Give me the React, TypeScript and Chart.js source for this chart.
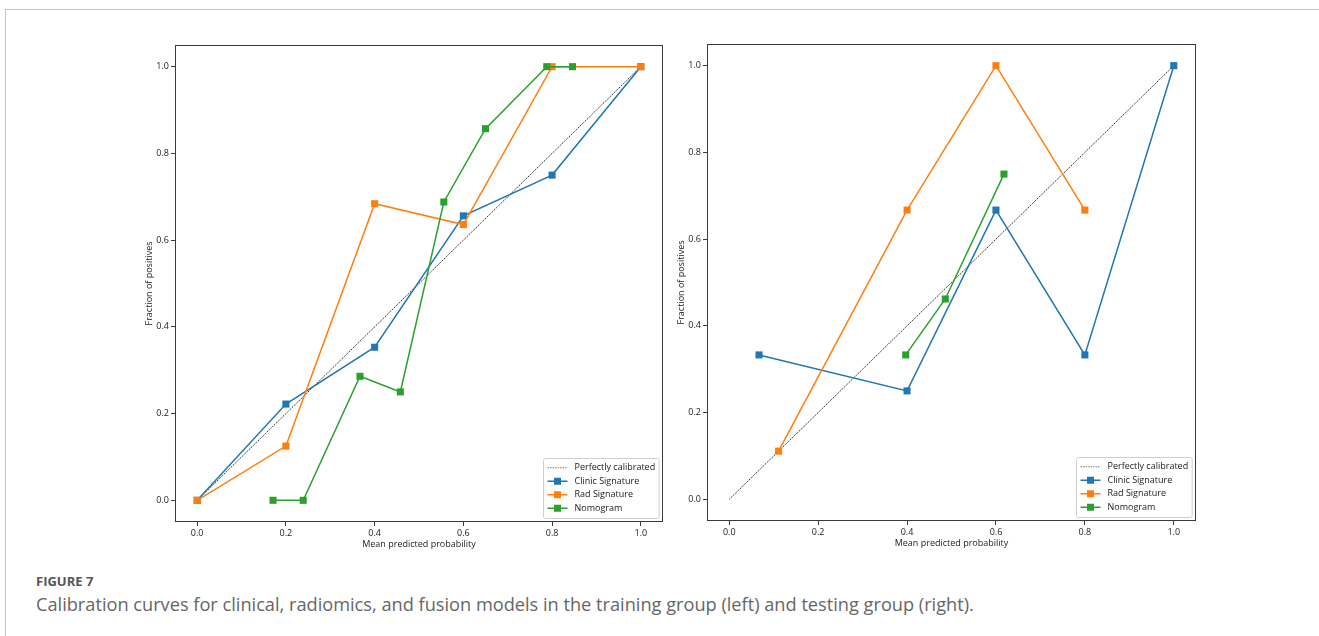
import React, { useEffect, useRef } from "react";
import { Chart, registerables } from "chart.js";

Chart.register(...registerables);

// ---------- data ----------
const seriesLabels = ["Perfectly calibrated", "Clinic Signature", "Rad Signature", "Nomogram"];
const tickValues = [0, 0.2, 0.4, 0.6, 0.8, 1.0];
const xAxisTitle = "Mean predicted probability";
const yAxisTitle = "Fraction of positives";
const figureLabel = "FIGURE 7";
const captionText =
  "Calibration curves for clinical, radiomics, and fusion models in the training group (left) and testing group (right).";

const diagX = [0, 1];
const diagY = [0, 1];

// training group (left)
const trainClinicX = [0, 0.2, 0.4, 0.6, 0.8, 1.0];
const trainClinicY = [0, 0.222, 0.353, 0.656, 0.75, 1.0];
const trainRadX = [0, 0.2, 0.4, 0.6, 0.8, 1.0];
const trainRadY = [0, 0.125, 0.684, 0.636, 1.0, 1.0];
const trainNomoX = [0.171, 0.239, 0.367, 0.458, 0.556, 0.65, 0.788, 0.846];
const trainNomoY = [0, 0, 0.286, 0.25, 0.688, 0.857, 1.0, 1.0];

// testing group (right)
const testClinicX = [0.067, 0.4, 0.6, 0.8, 1.0];
const testClinicY = [0.333, 0.25, 0.667, 0.333, 1.0];
const testRadX = [0.111, 0.4, 0.6, 0.8];
const testRadY = [0.111, 0.667, 1.0, 0.667];
const testNomoX = [0.397, 0.486, 0.618];
const testNomoY = [0.333, 0.462, 0.75];

// ---------- styles ----------
const COLORS = ["#222222", "#1f77b4", "#ff7f0e", "#2ca02c"];
const FONT_FAMILY = "'Open Sans', 'Noto Sans', sans-serif";
const axisFont = { family: FONT_FAMILY, size: 9 };

const pts = (xs: number[], ys: number[]) => xs.map((x, i) => ({ x, y: ys[i] }));

function makeDatasets(cx: number[], cy: number[], rx: number[], ry: number[], nx: number[], ny: number[]) {
  const series = [
    [diagX, diagY],
    [cx, cy],
    [rx, ry],
    [nx, ny],
  ];
  return series.map(([xs, ys], i) => {
    const isDiag = i === 0;
    return {
      label: seriesLabels[i],
      data: pts(xs, ys),
      showLine: true,
      tension: 0,
      borderColor: isDiag ? "rgba(20,20,20,0.9)" : COLORS[i],
      backgroundColor: COLORS[i],
      borderWidth: isDiag ? 1 : 1.5,
      borderDash: isDiag ? [1.5, 1] : [],
      pointRadius: isDiag ? 0 : 5,
      pointStyle: "rect",
      pointBackgroundColor: COLORS[i],
      pointBorderColor: COLORS[i],
      pointBorderWidth: 0,
      order: 4 - i,
    };
  });
}

const framePlugin = {
  id: "frameBox",
  afterDatasetsDraw(chart: any) {
    const { ctx, chartArea } = chart;
    ctx.save();
    ctx.strokeStyle = "#3a3a3a";
    ctx.lineWidth = 1;
    ctx.strokeRect(
      Math.round(chartArea.left) + 0.5,
      Math.round(chartArea.top) + 0.5,
      Math.round(chartArea.right - chartArea.left) - 1,
      Math.round(chartArea.bottom - chartArea.top) - 1
    );
    ctx.restore();
  },
};

const legendPlugin = {
  id: "boxLegend",
  afterDraw(chart: any) {
    const { ctx, chartArea } = chart;
    const ds = chart.data.datasets;
    ctx.save();
    ctx.font = `${axisFont.size}px ${FONT_FAMILY}`;
    const textW = Math.max(...ds.map((d: any) => ctx.measureText(d.label).width));
    const rowH = 13.5;
    const w = 31 + textW + 4;
    const h = ds.length * rowH + 6;
    const x0 = Math.round(chartArea.right - 4 - w) + 0.5;
    const y0 = Math.round(chartArea.bottom - 4 - h) + 0.5;
    ctx.beginPath();
    if ((ctx as any).roundRect) (ctx as any).roundRect(x0, y0, w, h, 2);
    else ctx.rect(x0, y0, w, h);
    ctx.fillStyle = "rgba(255,255,255,0.85)";
    ctx.fill();
    ctx.strokeStyle = "#cfcfcf";
    ctx.lineWidth = 1;
    ctx.stroke();
    ds.forEach((d: any, i: number) => {
      const cy = y0 + 2.5 + rowH * (i + 0.5);
      ctx.save();
      ctx.beginPath();
      ctx.strokeStyle = i === 0 ? "rgba(80,80,80,0.75)" : d.borderColor;
      ctx.lineWidth = d.borderWidth;
      ctx.setLineDash(d.borderDash || []);
      ctx.moveTo(x0 + 4, cy);
      ctx.lineTo(x0 + 24, cy);
      ctx.stroke();
      ctx.restore();
      if (d.pointRadius > 0) {
        ctx.fillStyle = d.pointBackgroundColor;
        ctx.fillRect(x0 + 14 - 3.5, cy - 3.5, 7, 7);
      }
      ctx.fillStyle = "#1a1a1a";
      ctx.textBaseline = "middle";
      ctx.textAlign = "left";
      ctx.fillText(d.label, x0 + 31, cy);
    });
    ctx.restore();
  },
};

function axis(title: string, isX: boolean, fit: number) {
  return {
    type: "linear",
    position: isX ? "bottom" : "left",
    min: -0.05,
    max: 1.05,
    afterBuildTicks: (s: any) => {
      s.ticks = tickValues.map((v) => ({ value: v }));
    },
    afterFit: (s: any) => {
      if (isX) s.height = fit;
      else s.width = fit;
    },
    ticks: {
      callback: (v: any) => Number(v).toFixed(1),
      font: axisFont,
      color: "#222",
      padding: 2,
      autoSkip: false,
      maxRotation: 0,
      minRotation: 0,
    },
    grid: {
      display: true,
      drawOnChartArea: false,
      drawTicks: true,
      tickLength: 4,
      color: "#3a3a3a",
      lineWidth: 1,
    },
    border: { display: false },
    title: {
      display: true,
      text: title,
      font: axisFont,
      color: "#222",
      padding: { top: 4, bottom: 4 },
    },
  };
}

function CalibChart(props: { left: number; top: number; width: number; height: number; padRight: number; datasets: any[] }) {
  const ref = useRef<HTMLCanvasElement>(null);
  useEffect(() => {
    const chart = new Chart(ref.current as HTMLCanvasElement, {
      type: "scatter",
      data: { datasets: props.datasets },
      options: {
        animation: false,
        responsive: false,
        devicePixelRatio: 1,
        events: [],
        layout: { padding: { top: 10, right: props.padRight, left: 0, bottom: 0 } },
        plugins: { legend: { display: false }, tooltip: { enabled: false } },
        scales: {
          x: axis(xAxisTitle, true, 32) as any,
          y: axis(yAxisTitle, false, 35) as any,
        },
      },
      plugins: [framePlugin, legendPlugin],
    });
    return () => chart.destroy();
  }, []);
  return (
    <canvas
      ref={ref}
      width={props.width}
      height={props.height}
      style={{ position: "absolute", left: props.left, top: props.top, width: props.width, height: props.height }}
    />
  );
}

export default function App() {
  const trainSets = makeDatasets(trainClinicX, trainClinicY, trainRadX, trainRadY, trainNomoX, trainNomoY);
  const testSets = makeDatasets(testClinicX, testClinicY, testRadX, testRadY, testNomoX, testNomoY);
  return (
    <div
      style={{
        position: "fixed",
        left: 0,
        top: 0,
        width: 1319,
        height: 636,
        background: "#fff",
        overflow: "hidden",
      }}
    >
      <div
        style={{
          position: "absolute",
          left: 5,
          top: 9,
          width: 1400,
          height: 700,
          borderLeft: "1px solid #c4c4c4",
          borderTop: "1px solid #c4c4c4",
        }}
      />
      <CalibChart left={140} top={35} width={530} height={519} padRight={7} datasets={trainSets} />
      <CalibChart left={672} top={34} width={540} height={519} padRight={16} datasets={testSets} />
      <div
        style={{
          position: "absolute",
          left: 36,
          top: 575,
          fontFamily: FONT_FAMILY,
          fontWeight: 700,
          fontSize: 13,
          lineHeight: "13px",
          color: "#555",
          whiteSpace: "nowrap",
        }}
      >
        {figureLabel}
      </div>
      <div
        style={{
          position: "absolute",
          left: 36,
          top: 595,
          fontFamily: FONT_FAMILY,
          fontSize: 18.2,
          lineHeight: "18px",
          color: "#666",
          whiteSpace: "nowrap",
        }}
      >
        {captionText}
      </div>
    </div>
  );
}
